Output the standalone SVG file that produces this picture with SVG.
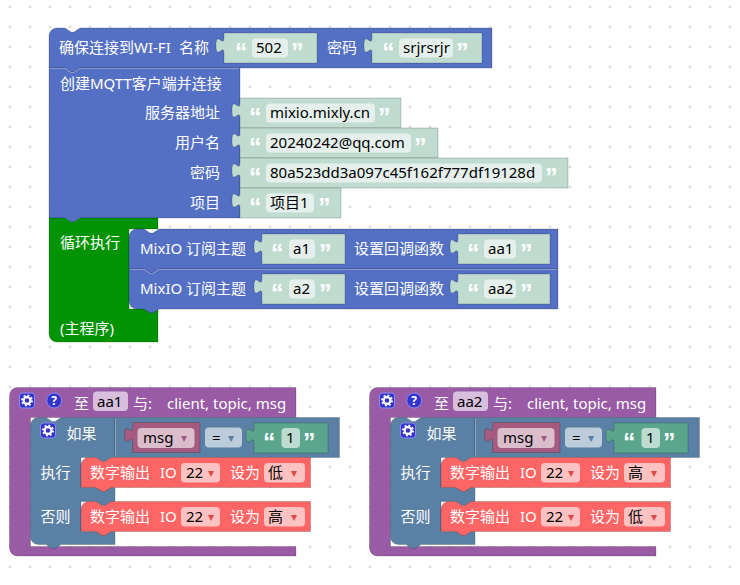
<svg xmlns="http://www.w3.org/2000/svg" xmlns:xlink="http://www.w3.org/1999/xlink" width="740" height="585" viewBox="0 0 740 585">
<style>
text{font-family:"Noto Sans","Noto Sans CJK SC",sans-serif;font-size:15px}
.lbl{fill:#fff}
.fld{fill:#000}
.q{fill:#fff;font-weight:bold;font-size:25px;font-family:"Liberation Sans","Noto Sans CJK SC",sans-serif}
.arr{font-size:12px}
.blk{stroke:rgba(0,0,0,0.18);stroke-width:1}
.blue{fill:#5470c4}
.teal{fill:#c0dcd1}
.tbox{fill:#e5f0ec}
.green{fill:#029303}
.purple{fill:#995ba5}
.logic{fill:#5b80a5}
.var{fill:#a55b80}
.txt{fill:#5ba58c}
.red{fill:#ff6565}
.rbox{fill:#ffc2c2}
.rarr{fill:#e04848}
.seam{fill:none;stroke:rgba(255,255,255,0.35);stroke-width:1}
</style>
<defs>
<pattern id="grid" x="0" y="-3" width="20" height="20" patternUnits="userSpaceOnUse">
<rect x="8.5" y="9.5" width="3" height="1" fill="#d2d2d2"/>
<rect x="9.5" y="8.5" width="1" height="3" fill="#d2d2d2"/>
</pattern>
<g id="gear">
<rect x="0" y="0" width="15" height="15" rx="3" fill="#3434cc" stroke="#8c8cf0" stroke-width="1"/>
<circle cx="7.5" cy="7.5" r="3.4" fill="none" stroke="#fff" stroke-width="2.2"/>
<circle cx="7.5" cy="7.5" r="5" fill="none" stroke="#fff" stroke-width="1.8" stroke-dasharray="1.9 2"/>
</g>
</defs>
<rect width="740" height="585" fill="#fff"/>
<rect width="740" height="585" fill="url(#grid)"/>

<g id="connectors"></g>

<g id="wifi">
<path class="blk blue" d="M49,36 a8,8 0 0 1 8,-8 h8 l6,4 h3 l6,-4 H492 V68 H80 l-6,4 h-3 l-6,-4 H49 Z"/>
<text class="lbl" x="59" y="53">确保连接到WI-FI</text>
<text class="lbl" x="179" y="53">名称</text>
<path class="blk teal" d="M224,33 v5 c0,10 -8,-8 -8,7.5 s8,-2.5 8,7.5 V63 H317 V33 Z"/>
<text class="q" x="235" y="61">“</text>
<rect class="tbox" x="252" y="38.5" width="36" height="19" rx="4"/>
<text class="fld" x="256" y="53">502</text>
<text class="q" x="291" y="61">”</text>
<text class="lbl" x="327" y="53">密码</text>
<path class="blk teal" d="M372,33 v5 c0,10 -8,-8 -8,7.5 s8,-2.5 8,7.5 V63 H482 V33 Z"/>
<text class="q" x="382" y="61">“</text>
<rect class="tbox" x="399" y="38.5" width="54" height="19" rx="4"/>
<text class="fld" x="403" y="53">srjrsrjr</text>
<text class="q" x="456" y="61">”</text>
</g>

<g id="mqtt">
<path class="blk blue" d="M49,68 H65 l6,4 h3 l6,-4 H240 V218 H80 l-6,4 h-3 l-6,-4 H49 Z"/>
<path class="seam" d="M49.5,68.5 H65 l6,4 h3 l6,-4 H239"/>
<text class="lbl" x="60" y="89">创建MQTT客户端并连接</text>
<text class="lbl" x="220" y="118" text-anchor="end">服务器地址</text>
<text class="lbl" x="220" y="148" text-anchor="end">用户名</text>
<text class="lbl" x="220" y="178" text-anchor="end">密码</text>
<text class="lbl" x="220" y="208" text-anchor="end">项目</text>
<path class="blk teal" d="M240,98 v5 c0,10 -8,-8 -8,7.5 s8,-2.5 8,7.5 V128 H401 V98 Z"/>
<text class="q" x="249" y="126">“</text>
<rect class="tbox" x="266" y="103.5" width="109" height="19" rx="4"/>
<text class="fld" x="270" y="118">mixio.mixly.cn</text>
<text class="q" x="378" y="126">”</text>
<path class="blk teal" d="M240,128 v5 c0,10 -8,-8 -8,7.5 s8,-2.5 8,7.5 V158 H438 V128 Z"/>
<text class="q" x="249" y="156">“</text>
<rect class="tbox" x="266" y="133.5" width="145" height="19" rx="4"/>
<text class="fld" x="270" y="148">20240242@qq.com</text>
<text class="q" x="414" y="156">”</text>
<path class="blk teal" d="M240,158 v5 c0,10 -8,-8 -8,7.5 s8,-2.5 8,7.5 V188 H568 V158 Z"/>
<text class="q" x="249" y="186">“</text>
<rect class="tbox" x="266" y="163.5" width="276" height="19" rx="4"/>
<text class="fld" x="270" y="178">80a523dd3a097c45f162f777df19128d</text>
<text class="q" x="545" y="186">”</text>
<path class="blk teal" d="M240,188 v5 c0,10 -8,-8 -8,7.5 s8,-2.5 8,7.5 V218 H341 V188 Z"/>
<text class="q" x="249" y="216">“</text>
<rect class="tbox" x="266" y="193.5" width="48" height="19" rx="4"/>
<text class="fld" x="270" y="208">项目1</text>
<text class="q" x="318" y="216">”</text>
</g>

<g id="loop">
<path class="blk green" d="M49,218 H65 l6,4 h3 l6,-4 H158 V229 H129 V309 H158 V342 H57 a8,8 0 0 1 -8,-8 Z"/>
<text class="lbl" x="60" y="248">循环执行</text>
<text class="lbl" x="60" y="334">(主程序)</text>
</g>

<g id="sub1">
<path class="blk blue" d="M129,237 a8,8 0 0 1 8,-8 h7 l6,4 h3 l6,-4 H558 V269 H159 l-6,4 h-3 l-6,-4 H129 Z"/>
<text class="lbl" x="140" y="254">MixIO 订阅主题</text>
<path class="blk teal" d="M262,234 v5 c0,10 -8,-8 -8,7.5 s8,-2.5 8,7.5 V264 H345 V234 Z"/>
<text class="q" x="271" y="262">“</text>
<rect class="tbox" x="289" y="239.5" width="26" height="19" rx="4"/>
<text class="fld" x="293" y="254">a1</text>
<text class="q" x="319" y="262">”</text>
<text class="lbl" x="354" y="254">设置回调函数</text>
<path class="blk teal" d="M458,234 v5 c0,10 -8,-8 -8,7.5 s8,-2.5 8,7.5 V264 H550 V234 Z"/>
<text class="q" x="467" y="262">“</text>
<rect class="tbox" x="484" y="239.5" width="32" height="19" rx="4"/>
<text class="fld" x="488" y="254">aa1</text>
<text class="q" x="520" y="262">”</text>
</g>

<g id="sub2">
<path class="blk blue" d="M129,269 H144 l6,4 h3 l6,-4 H558 V309 H159 l-6,4 h-3 l-6,-4 H137 a8,8 0 0 1 -8,-8 Z"/>
<path class="seam" d="M129.5,269.5 H144 l6,4 h3 l6,-4 H557"/>
<text class="lbl" x="140" y="294">MixIO 订阅主题</text>
<path class="blk teal" d="M262,274 v5 c0,10 -8,-8 -8,7.5 s8,-2.5 8,7.5 V304 H345 V274 Z"/>
<text class="q" x="271" y="302">“</text>
<rect class="tbox" x="289" y="279.5" width="26" height="19" rx="4"/>
<text class="fld" x="293" y="294">a2</text>
<text class="q" x="319" y="302">”</text>
<text class="lbl" x="354" y="294">设置回调函数</text>
<path class="blk teal" d="M458,274 v5 c0,10 -8,-8 -8,7.5 s8,-2.5 8,7.5 V304 H550 V274 Z"/>
<text class="q" x="467" y="302">“</text>
<rect class="tbox" x="484" y="279.5" width="32" height="19" rx="4"/>
<text class="fld" x="488" y="294">aa2</text>
<text class="q" x="520" y="302">”</text>
</g>

<g id="func_aa1">
<path class="blk purple" d="M9.5,395.5 a8,8 0 0 1 8,-8 H296 V417.5 H30.5 V546.5 H296 V556 H17.5 a8,8 0 0 1 -8,-8 Z"/>
<use xlink:href="#gear" href="#gear" x="19.5" y="393"/>
<circle cx="54.2" cy="400.5" r="7.5" fill="#3434cc" stroke="#8c8cf0" stroke-width="1"/>
<text x="54.2" y="405" text-anchor="middle" style="font-size:12px;font-weight:bold;fill:#fff">?</text>
<text class="lbl" x="74" y="408.5">至</text>
<rect x="93" y="391.5" width="35" height="19.5" rx="4" fill="#d8bfdd"/>
<text class="fld" x="97" y="406.5">aa1</text>
<text class="lbl" x="133" y="408.5">与:</text>
<text class="lbl" x="167" y="408.5">client, topic, msg</text>
<path class="blk logic" d="M30.5,425.5 a8,8 0 0 1 8,-8 H46 l6,4 h3 l6,-4 H115 V457.5 H111 l-6,4 h-3 l-6,-4 H81 V487.5 H115 V501.5 H111 l-6,4 h-3 l-6,-4 H81 V531.5 H115 V544.5 H61 l-6,4 h-3 l-6,-4 H38.5 a8,8 0 0 1 -8,-8 Z"/>
<use xlink:href="#gear" href="#gear" x="40.5" y="423"/>
<text class="lbl" x="66.5" y="438.5">如果</text>
<text class="lbl" x="40.5" y="478">执行</text>
<text class="lbl" x="40.5" y="522">否则</text>
<path class="blk logic" d="M115,417.5 H339.5 V457.5 H115 Z"/>
<path class="seam" d="M115.5,418 V457"/>
<path class="blk var" d="M132.5,422.5 v5 c0,10 -8,-8 -8,7.5 s8,-2.5 8,7.5 V452.5 H200 V422.5 Z"/>
<rect x="137.5" y="428" width="57" height="20" rx="4" fill="#dbbdcc"/>
<text class="fld" x="143" y="443">msg</text>
<text class="arr" x="181" y="442" fill="#a55b80">▾</text>
<rect x="205" y="427.5" width="37" height="20" rx="4" fill="#bdccdb"/>
<text class="fld" x="212" y="442.5">=</text>
<text class="arr" x="228" y="442" fill="#5b80a5">▾</text>
<path class="blk txt" d="M254,423 v5 c0,10 -8,-8 -8,7.5 s8,-2.5 8,7.5 V453 H328 V423 Z"/>
<text class="q" x="263" y="451">“</text>
<rect x="281.5" y="428" width="18.5" height="20" rx="4" fill="#bddbd1"/>
<text class="fld" x="286" y="443">1</text>
<text class="q" x="303" y="451">”</text>
<path class="blk red" d="M81,465.5 a8,8 0 0 1 8,-8 h7 l6,4 h3 l6,-4 H310.5 V487.5 H111 l-6,4 h-3 l-6,-4 H81 Z"/>
<text class="lbl" x="90" y="478">数字输出</text>
<text class="lbl" x="160" y="478">IO</text>
<rect class="rbox" x="181" y="463" width="39" height="19.5" rx="4"/>
<text class="fld" x="186" y="478">22</text>
<text class="arr rarr" x="208" y="477">▾</text>
<text class="lbl" x="230" y="478">设为</text>
<rect class="rbox" x="264" y="463" width="41" height="19.5" rx="4"/>
<text class="fld" x="268" y="478">低</text>
<text class="arr rarr" x="291" y="477">▾</text>
<path class="blk red" d="M81,509.5 a8,8 0 0 1 8,-8 h7 l6,4 h3 l6,-4 H310.5 V531.5 H111 l-6,4 h-3 l-6,-4 H81 Z"/>
<text class="lbl" x="90" y="522">数字输出</text>
<text class="lbl" x="160" y="522">IO</text>
<rect class="rbox" x="181" y="507" width="39" height="19.5" rx="4"/>
<text class="fld" x="186" y="522">22</text>
<text class="arr rarr" x="208" y="521">▾</text>
<text class="lbl" x="230" y="522">设为</text>
<rect class="rbox" x="264" y="507" width="41" height="19.5" rx="4"/>
<text class="fld" x="268" y="522">高</text>
<text class="arr rarr" x="291" y="521">▾</text>
</g>

<g id="func_aa2" transform="translate(360,0)">
<path class="blk purple" d="M9.5,395.5 a8,8 0 0 1 8,-8 H296 V417.5 H30.5 V546.5 H296 V556 H17.5 a8,8 0 0 1 -8,-8 Z"/>
<use xlink:href="#gear" href="#gear" x="19.5" y="393"/>
<circle cx="54.2" cy="400.5" r="7.5" fill="#3434cc" stroke="#8c8cf0" stroke-width="1"/>
<text x="54.2" y="405" text-anchor="middle" style="font-size:12px;font-weight:bold;fill:#fff">?</text>
<text class="lbl" x="74" y="408.5">至</text>
<rect x="93" y="391.5" width="35" height="19.5" rx="4" fill="#d8bfdd"/>
<text class="fld" x="97" y="406.5">aa2</text>
<text class="lbl" x="133" y="408.5">与:</text>
<text class="lbl" x="167" y="408.5">client, topic, msg</text>
<path class="blk logic" d="M30.5,425.5 a8,8 0 0 1 8,-8 H46 l6,4 h3 l6,-4 H115 V457.5 H111 l-6,4 h-3 l-6,-4 H81 V487.5 H115 V501.5 H111 l-6,4 h-3 l-6,-4 H81 V531.5 H115 V544.5 H61 l-6,4 h-3 l-6,-4 H38.5 a8,8 0 0 1 -8,-8 Z"/>
<use xlink:href="#gear" href="#gear" x="40.5" y="423"/>
<text class="lbl" x="66.5" y="438.5">如果</text>
<text class="lbl" x="40.5" y="478">执行</text>
<text class="lbl" x="40.5" y="522">否则</text>
<path class="blk logic" d="M115,417.5 H339.5 V457.5 H115 Z"/>
<path class="seam" d="M115.5,418 V457"/>
<path class="blk var" d="M132.5,422.5 v5 c0,10 -8,-8 -8,7.5 s8,-2.5 8,7.5 V452.5 H200 V422.5 Z"/>
<rect x="137.5" y="428" width="57" height="20" rx="4" fill="#dbbdcc"/>
<text class="fld" x="143" y="443">msg</text>
<text class="arr" x="181" y="442" fill="#a55b80">▾</text>
<rect x="205" y="427.5" width="37" height="20" rx="4" fill="#bdccdb"/>
<text class="fld" x="212" y="442.5">=</text>
<text class="arr" x="228" y="442" fill="#5b80a5">▾</text>
<path class="blk txt" d="M254,423 v5 c0,10 -8,-8 -8,7.5 s8,-2.5 8,7.5 V453 H328 V423 Z"/>
<text class="q" x="263" y="451">“</text>
<rect x="281.5" y="428" width="18.5" height="20" rx="4" fill="#bddbd1"/>
<text class="fld" x="286" y="443">1</text>
<text class="q" x="303" y="451">”</text>
<path class="blk red" d="M81,465.5 a8,8 0 0 1 8,-8 h7 l6,4 h3 l6,-4 H310.5 V487.5 H111 l-6,4 h-3 l-6,-4 H81 Z"/>
<text class="lbl" x="90" y="478">数字输出</text>
<text class="lbl" x="160" y="478">IO</text>
<rect class="rbox" x="181" y="463" width="39" height="19.5" rx="4"/>
<text class="fld" x="186" y="478">22</text>
<text class="arr rarr" x="208" y="477">▾</text>
<text class="lbl" x="230" y="478">设为</text>
<rect class="rbox" x="264" y="463" width="41" height="19.5" rx="4"/>
<text class="fld" x="268" y="478">高</text>
<text class="arr rarr" x="291" y="477">▾</text>
<path class="blk red" d="M81,509.5 a8,8 0 0 1 8,-8 h7 l6,4 h3 l6,-4 H310.5 V531.5 H111 l-6,4 h-3 l-6,-4 H81 Z"/>
<text class="lbl" x="90" y="522">数字输出</text>
<text class="lbl" x="160" y="522">IO</text>
<rect class="rbox" x="181" y="507" width="39" height="19.5" rx="4"/>
<text class="fld" x="186" y="522">22</text>
<text class="arr rarr" x="208" y="521">▾</text>
<text class="lbl" x="230" y="522">设为</text>
<rect class="rbox" x="264" y="507" width="41" height="19.5" rx="4"/>
<text class="fld" x="268" y="522">低</text>
<text class="arr rarr" x="291" y="521">▾</text>
</g>
</svg>
